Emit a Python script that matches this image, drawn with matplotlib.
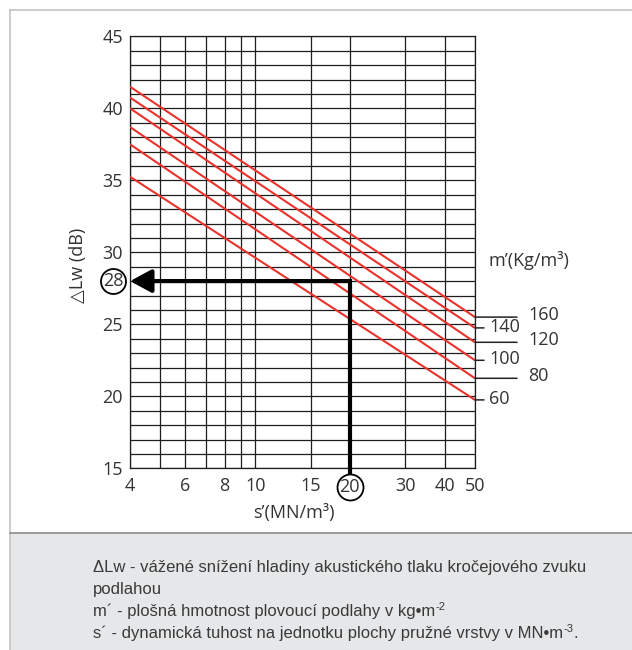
import matplotlib
matplotlib.use('Agg')
import matplotlib.pyplot as plt
import matplotlib.transforms as mtransforms
from matplotlib.patches import Rectangle
from matplotlib.lines import Line2D

# ---------------- data ----------------
s_ends = [4, 50]                                   # s' (MN/m3) at both ends of each line
masses = [60, 80, 100, 120, 140, 160]              # m' (kg/m2)
dlw_at_start = [35.25, 37.5, 38.7, 40.0, 40.75, 41.5]
dlw_at_end = [19.75, 21.25, 22.5, 23.75, 24.75, 25.5]
x_tick_vals = [4, 6, 8, 10, 15, 20, 30, 40, 50]
x_grid_vals = [4, 5, 6, 7, 8, 9, 10, 15, 20, 30, 40, 50]
y_tick_vals = [15, 20, 25, 30, 35, 40, 45]
y_grid_vals = list(range(15, 46))
example_s = 20
example_dlw = 28

plt.rcParams['font.family'] = ['Open Sans', 'DejaVu Sans']
FS = 13
TXT = '#333333'

W, H = 632, 650
fig = plt.figure(figsize=(W / 100, H / 100), dpi=100)

def fx(px):
    return px / W

def fy(py):
    return 1 - py / H

# frame and legend panel
fig.patches.append(Rectangle((fx(10), 0), 1 - fx(10), fy(533), transform=fig.transFigure,
                             facecolor='#e6e7e8', edgecolor='none', zorder=0))
fig.add_artist(Line2D([fx(10), fx(10)], [0, fy(10)], color='#c4c4c4', lw=1.2))
fig.add_artist(Line2D([fx(10), 1], [fy(10), fy(10)], color='#c4c4c4', lw=1.2))
fig.add_artist(Line2D([fx(10), 1], [fy(533), fy(533)], color='#9a9a9a', lw=1.4))

ax = fig.add_axes([fx(130), fy(468.3), fx(475) - fx(130), fy(36.3) - fy(468.3)])
ax.set_xscale('log')
ax.set_xlim(s_ends[0], s_ends[1])
ax.set_ylim(y_tick_vals[0], y_tick_vals[-1])
ax.patch.set_facecolor('white')

grid_col = '#1e1e1e'
for x in x_grid_vals:
    ax.axvline(x, color=grid_col, lw=0.9, zorder=1)
for y in y_grid_vals:
    ax.axhline(y, color=grid_col, lw=0.9, zorder=1)
for sp in ax.spines.values():
    sp.set_color(grid_col)
    sp.set_linewidth(0.9)

ax.set_xticks(x_tick_vals)
ax.set_xticklabels(['' if v == example_s else str(v) for v in x_tick_vals])
ax.xaxis.set_minor_locator(matplotlib.ticker.NullLocator())
ax.set_yticks(y_tick_vals)
ax.set_yticklabels([str(v) for v in y_tick_vals])
ax.tick_params(length=0, labelsize=FS, labelcolor=TXT)
ax.tick_params(axis='x', pad=6)
ax.tick_params(axis='y', pad=5)

# red lines
for a, b in zip(dlw_at_start, dlw_at_end):
    ax.plot(s_ends, [a, b], color='#e8322b', lw=1.5, zorder=3, solid_capstyle='butt')

# right labels with leader ticks
for i, (m, v) in enumerate(zip(masses, dlw_at_end)):
    long = (i % 2 == 1)
    L = 42 if long else 9
    ax.annotate('', xy=(s_ends[1], v), xycoords='data', xytext=(L, 0), textcoords='offset pixels',
                arrowprops=dict(arrowstyle='-', color='#222222', lw=1.1, shrinkA=0, shrinkB=0),
                annotation_clip=False)
    ax.annotate(str(m), xy=(s_ends[1], v), xycoords='data',
                xytext=(53 if long else 14, 2.5 if long else 1.2), textcoords='offset pixels',
                ha='left', va='center', fontsize=FS, color=TXT, annotation_clip=False)

ax.annotate('m’(Kg/m³)', xy=(1, (468.3 - 260) / 432), xycoords='axes fraction',
            xytext=(13, 0), textcoords='offset pixels', ha='left', va='center',
            fontsize=FS, color=TXT, annotation_clip=False)

# example: thick arrow path
ax.annotate('', xy=(s_ends[0], example_dlw), xytext=(example_s, example_dlw),
            arrowprops=dict(arrowstyle='-|>,head_length=13,head_width=7', mutation_scale=1,
                            lw=3, color='black', shrinkA=0, shrinkB=0),
            zorder=5, annotation_clip=False)
ax.plot([example_s, example_s], [example_dlw, y_tick_vals[0] - 1.3], color='black', lw=3,
        solid_capstyle='projecting', zorder=5, clip_on=False)

# circled values
tr_x = mtransforms.offset_copy(ax.transData, fig=fig, x=0, y=-19, units='dots')
ax.plot([example_s], [y_tick_vals[0]], 'o', ms=26 * 0.72, mfc='white', mec='black', mew=1.3,
        transform=tr_x, clip_on=False, zorder=6)
ax.text(example_s, y_tick_vals[0], str(example_s), transform=tr_x, ha='center', va='center',
        fontsize=FS, color=TXT, zorder=7, clip_on=False)

blend = mtransforms.blended_transform_factory(ax.transAxes, ax.transData)
tr_y = mtransforms.offset_copy(blend, fig=fig, x=-17, y=0, units='dots')
ax.plot([0], [example_dlw], 'o', ms=25 * 0.72, mfc='white', mec='black', mew=1.3,
        transform=tr_y, clip_on=False, zorder=6)
ax.text(0, example_dlw, str(example_dlw), transform=tr_y, ha='center', va='center',
        fontsize=FS, color=TXT, zorder=7, clip_on=False)

# axis titles
fig.text(fx(78), fy(265), '△Lw (dB)', rotation=90, ha='center', va='center',
         fontsize=FS, color=TXT)
fig.text(fx(294), fy(513), 's’(MN/m³)', ha='center', va='center', fontsize=FS, color=TXT)

# legend text
lfont = dict(family=['Liberation Sans', 'DejaVu Sans'], color='#3a3a3a')
LFS = 12
renderer = fig.canvas.get_renderer()

def line_with_sup(x_px, base_px, main, sup, tail=''):
    t = fig.text(fx(x_px), fy(base_px), main, ha='left', va='baseline', fontsize=LFS, **lfont)
    if sup:
        bb = t.get_window_extent(renderer=renderer)
        t2 = fig.text(bb.x1 / W, fy(base_px - 6.5), sup, ha='left', va='baseline',
                      fontsize=8, **lfont)
        if tail:
            bb2 = t2.get_window_extent(renderer=renderer)
            fig.text(bb2.x1 / W, fy(base_px), tail, ha='left', va='baseline', fontsize=LFS, **lfont)

line_with_sup(93, 572, 'ΔLw - vážené snížení hladiny akustického tlaku kročejového zvuku', '')
line_with_sup(93, 594, 'podlahou', '')
line_with_sup(93, 616, 'm´ - plošná hmotnost plovoucí podlahy v kg•m', '-2')
line_with_sup(93, 638, 's´ - dynamická tuhost na jednotku plochy pružné vrstvy v MN•m', '-3', '.')

fig.savefig('out.png', dpi=100)
